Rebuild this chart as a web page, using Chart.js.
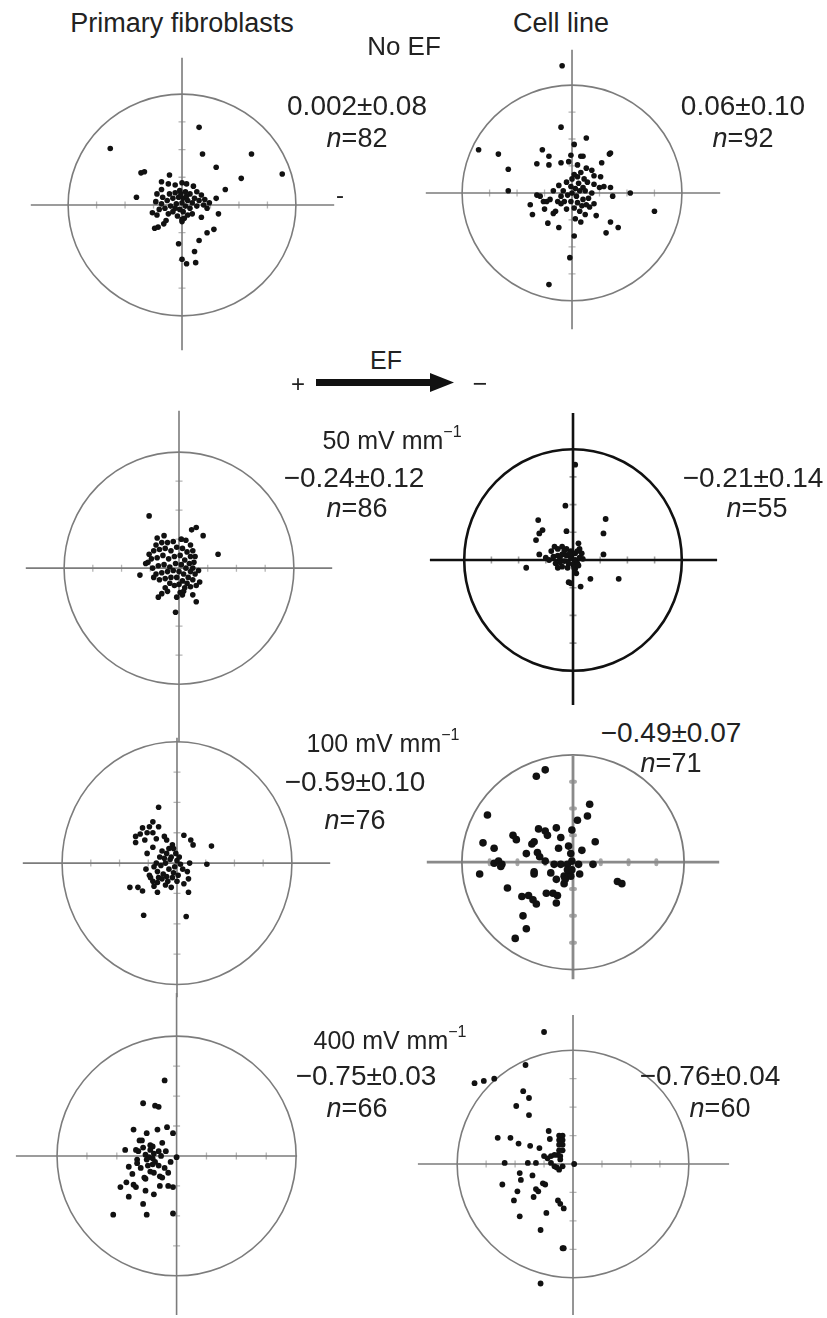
<!DOCTYPE html>
<html>
<head>
<meta charset="utf-8">
<title>EF directedness plots</title>
<script src="https://cdn.jsdelivr.net/npm/chart.js"></script>
<style>
  html, body { margin: 0; padding: 0; background: #fff; }
  #fig { position: relative; width: 827px; height: 1318px; overflow: hidden; }
  #fig canvas { position: absolute; }
  .lbl {
    position: absolute; transform: translate(-50%, -50%);
    font-family: "Liberation Sans", Arial, sans-serif; font-size: 25px;
    color: #222; white-space: nowrap; line-height: 1;
  }
  .lbl i { font-style: italic; }
  .lbl sup { font-size: 16px; position: relative; top: -3px; }
</style>
</head>
<body>
<div id="fig"></div>
<script>
// cell positions, x = along field, y = perpendicular; circle is radius 1
const primaryNoEF = [
  [-0.63,0.51],[0.15,0.70],[0.18,0.46],[0.61,0.46],[0.88,0.28],[0.30,0.34],[0.52,0.24],[0.38,0.14],
  [-0.36,0.29],[-0.33,0.30],[-0.11,0.27],[-0.18,0.21],[-0.40,0.07],[0.30,0.06],[0.32,-0.08],[0.17,-0.11],
  [0.09,-0.08],[0.28,-0.22],[0.22,-0.25],[0.15,-0.32],[-0.03,-0.35],[0.11,-0.42],[0.0,-0.49],[0.04,-0.53],
  [0.12,-0.52],[-0.26,-0.07],[-0.24,-0.21],[-0.21,-0.20],[-0.16,-0.17],[-0.14,-0.14],[-0.22,-0.09],[0.0,-0.13],
  [-0.18,0.14],[-0.12,0.19],[-0.06,0.18],[0.0,0.20],[0.04,0.19],[0.10,0.17],[0.13,0.12],[0.17,0.09],
  [0.20,0.05],[0.24,0.02],[-0.22,0.10],[-0.17,0.07],[-0.11,0.10],[-0.06,0.11],[-0.02,0.13],[0.03,0.12],
  [0.07,0.10],[0.11,0.06],[0.15,0.04],[0.19,0.0],[-0.23,0.03],[-0.18,0.01],[-0.13,0.04],[-0.08,0.06],
  [-0.03,0.07],[0.01,0.06],[0.05,0.04],[0.09,0.02],[0.13,-0.01],[0.22,-0.03],[-0.20,-0.04],[-0.15,-0.03],
  [-0.10,-0.01],[-0.05,0.01],[0.0,0.02],[0.03,-0.01],[0.07,-0.03],[-0.02,-0.04],[0.01,-0.06],[-0.08,-0.06],
  [-0.12,-0.08],[-0.04,-0.10],[0.02,-0.12],[0.0,-0.15],[0.05,-0.09],[-0.06,-0.03],[0.04,0.08],[-0.01,0.10]
];
const cellNoEF = [
  [-0.09,1.18],[-0.10,0.61],[0.13,0.51],[-0.85,0.40],[-0.67,0.36],[-0.58,0.22],[-0.58,0.02],[-0.27,0.40],
  [-0.21,0.34],[-0.32,0.27],[-0.21,0.26],[-0.10,0.28],[0.02,0.45],[-0.01,0.35],[0.08,0.34],[0.10,0.34],
  [-0.03,0.29],[0.05,0.26],[0.34,0.36],[0.35,0.37],[0.27,0.28],[0.13,0.23],[0.18,0.21],[0.20,0.16],
  [0.26,0.15],[0.02,0.17],[0.11,0.13],[0.20,0.08],[0.29,0.06],[0.35,0.05],[0.37,-0.03],[0.53,0.0],
  [0.75,-0.17],[0.42,-0.32],[0.35,-0.27],[0.31,-0.37],[0.22,-0.21],[0.16,-0.13],[0.08,-0.27],[0.03,-0.24],
  [0.02,-0.40],[-0.02,-0.60],[-0.21,-0.85],[-0.12,-0.32],[-0.22,-0.28],[-0.36,-0.20],[-0.38,-0.11],[-0.17,-0.19],
  [-0.15,-0.17],[-0.32,-0.02],[-0.29,-0.03],[-0.26,-0.08],[-0.23,-0.08],[-0.20,-0.06],[-0.12,0.07],[-0.17,0.02],
  [-0.10,-0.03],[-0.07,-0.08],[-0.10,-0.10],[-0.13,-0.08],[-0.01,0.06],[0.03,0.04],[0.07,0.02],[0.10,0.05],
  [0.04,-0.03],[-0.01,-0.08],[0.05,-0.09],[0.10,-0.06],[0.13,-0.11],[0.07,-0.17],[0.0,0.0],[0.06,0.09],
  [0.12,0.02],[-0.04,-0.02],[0.02,-0.14],[0.15,-0.05],[0.09,-0.12],[-0.05,0.10],[0.14,0.10],[-0.08,0.02],
  [0.25,0.05],[0.18,0.0],[0.20,-0.10],[0.0,0.13],[0.08,0.19],[-0.05,-0.15],[0.05,0.15],[-0.25,-0.15],[0.12,-0.20]
];
const primary50 = [
  [-0.26,0.45],[0.15,0.35],[0.11,0.33],[0.21,0.28],[0.34,0.12],[-0.34,-0.06],[-0.03,-0.38],[0.15,-0.29],
  [0.12,-0.23],[-0.18,-0.25],[-0.15,-0.22],[-0.12,-0.17],[-0.02,-0.25],[0.01,-0.21],[0.04,-0.20],[0.18,-0.12],
  [0.17,-0.02],[-0.19,0.26],[-0.13,0.28],[-0.26,0.12],[-0.29,0.04],[-0.27,0.05],[-0.22,-0.08],
  [-0.20,0.20],[-0.15,0.22],[-0.10,0.22],[-0.05,0.23],[0.02,0.25],[0.06,0.24],[0.10,0.20],[0.12,0.15],[0.14,0.10],
  [-0.22,0.15],[-0.17,0.16],[-0.12,0.17],[-0.07,0.15],[-0.02,0.18],[0.03,0.17],[0.07,0.14],[0.10,0.10],[0.13,0.05],
  [-0.24,0.08],[-0.19,0.09],[-0.14,0.11],[-0.09,0.08],[-0.04,0.10],[0.01,0.11],[0.05,0.07],[0.09,0.04],[0.12,0.0],
  [-0.23,0.0],[-0.18,0.02],[-0.13,0.03],[-0.08,0.01],[-0.03,0.04],[0.02,0.03],[0.06,0.0],[0.10,-0.03],[0.14,-0.05],
  [-0.20,-0.05],[-0.15,-0.04],[-0.10,-0.03],[-0.05,-0.02],[0.0,-0.03],[0.04,-0.05],[0.08,-0.08],[0.12,-0.10],
  [-0.17,-0.10],[-0.12,-0.09],[-0.07,-0.08],[-0.02,-0.08],[0.03,-0.11],[0.07,-0.13],[0.10,-0.16],[0.05,-0.17],
  [-0.08,-0.13],[-0.04,-0.15],[0.0,-0.14],[0.15,-0.15],[-0.10,-0.20],[0.03,-0.23]
];
const cell50 = [
  [0.02,0.86],[-0.07,0.49],[-0.32,0.36],[-0.28,0.27],[-0.31,0.24],[-0.34,0.18],[-0.06,0.26],[0.30,0.37],
  [0.28,0.24],[0.28,0.05],[0.42,-0.17],[0.16,-0.17],[-0.43,-0.07],[-0.31,0.05],[-0.04,-0.20],[-0.02,-0.21],
  [0.07,-0.24],[0.03,-0.12],[0.05,0.15],[0.02,-0.08],
  [-0.25,0.02],[-0.20,0.08],[-0.17,0.12],[-0.14,0.10],[-0.10,0.12],[-0.06,0.10],[-0.02,0.08],[0.02,0.06],
  [0.06,0.10],[0.08,0.06],[-0.22,0.0],[-0.18,0.03],[-0.14,0.04],[-0.10,0.05],[-0.06,0.04],[-0.02,0.02],
  [0.02,0.0],[0.06,0.02],[0.09,0.01],[-0.16,-0.03],[-0.12,-0.02],[-0.08,-0.01],[-0.04,-0.03],[0.0,-0.04],
  [0.04,-0.03],[-0.10,-0.06],[-0.05,-0.07],[0.01,-0.07],[-0.12,0.02],[-0.03,0.06],[0.04,0.08],[-0.08,0.08],
  [0.05,-0.05],[-0.14,-0.07]
];
const primary100 = [
  [-0.16,0.46],[-0.21,0.34],[-0.16,0.30],[-0.30,0.29],[-0.26,0.25],[-0.21,0.25],[-0.36,0.22],[-0.28,0.19],
  [-0.36,0.17],[-0.18,0.20],[-0.11,0.22],[-0.09,0.19],[-0.04,0.15],[-0.03,0.12],[0.06,0.23],[0.12,0.19],
  [0.14,0.15],[0.30,0.14],[0.26,-0.01],[0.11,0.0],[-0.21,0.13],[-0.26,0.08],[-0.41,-0.20],[-0.34,-0.20],
  [-0.30,-0.23],[-0.17,-0.24],[-0.29,-0.43],[0.08,-0.44],
  [-0.09,0.08],[-0.11,0.04],[-0.06,0.03],[-0.10,0.0],[-0.27,-0.05],[-0.20,-0.03],[-0.17,-0.07],[-0.21,-0.15],
  [-0.17,-0.16],[-0.13,-0.13],[-0.09,-0.11],[-0.03,-0.08],[0.03,-0.01],[0.09,-0.07],[0.10,-0.13],[0.06,-0.17],
  [0.10,-0.24],[-0.05,0.05],[0.0,0.02],[-0.02,-0.03],[-0.07,-0.05],[-0.14,-0.02],[-0.12,-0.09],[-0.04,-0.12],
  [0.01,-0.10],[-0.08,-0.15],[-0.16,-0.12],[-0.24,-0.10],[-0.20,-0.19],[-0.10,-0.18],[0.05,-0.05],[-0.01,0.08],
  [-0.15,0.05],[-0.07,0.12],[-0.23,-0.12],[0.0,-0.15],[-0.13,0.10],[-0.32,0.24],[-0.24,0.30],[-0.05,-0.20],
  [0.02,0.05],[-0.18,0.0]
];
const cell100 = [
  [-0.33,0.80],[-0.25,0.86],[-0.77,0.44],[-0.81,0.18],[-0.84,-0.11],[0.15,0.54],[0.13,0.43],[0.04,0.39],
  [-0.01,0.30],[-0.15,0.32],[-0.31,0.31],[-0.25,0.29],[-0.23,0.25],[-0.54,0.25],[-0.51,0.21],[-0.37,0.17],
  [-0.35,0.19],[-0.11,0.23],[0.20,0.19],[0.08,0.11],[-0.04,0.15],[-0.13,0.13],[-0.42,0.08],[-0.32,0.09],
  [-0.71,0.13],[-0.71,-0.01],[-0.67,0.01],[-0.64,-0.02],[-0.65,-0.04],[-0.25,0.01],[-0.17,-0.02],[-0.11,-0.02],
  [-0.05,-0.02],[-0.01,0.01],[0.05,-0.02],[0.18,-0.02],[-0.35,-0.11],[-0.35,-0.09],[-0.20,-0.10],[-0.15,-0.16],
  [-0.08,-0.13],[-0.04,-0.11],[-0.08,-0.20],[-0.02,-0.13],[0.06,-0.11],[-0.59,-0.24],[-0.46,-0.32],[-0.40,-0.31],
  [-0.36,-0.35],[-0.33,-0.39],[-0.24,-0.29],[-0.18,-0.29],[-0.14,-0.31],[-0.15,-0.38],[-0.45,-0.50],[-0.42,-0.62],
  [-0.52,-0.71],[0.40,-0.18],[0.44,-0.20],[-0.05,-0.07],[-0.01,-0.07],[-0.07,-0.16],[-0.30,0.05],[-0.02,0.08]
];
const primary400 = [
  [-0.10,0.63],[-0.28,0.44],[-0.18,0.42],[-0.15,0.41],[-0.36,0.22],[-0.25,0.19],[-0.16,0.22],[-0.08,0.24],
  [-0.03,0.19],[-0.31,0.13],[-0.29,0.13],[-0.22,0.09],[-0.20,0.08],[-0.12,0.11],[-0.43,0.05],[-0.34,0.05],
  [-0.32,0.04],[-0.15,0.04],[-0.09,0.04],[0.0,-0.01],[-0.26,0.01],[-0.23,-0.01],[-0.20,-0.02],[-0.18,-0.05],
  [-0.25,-0.03],[-0.19,0.02],[-0.33,-0.03],[-0.33,-0.06],[-0.05,-0.05],[-0.40,-0.09],[-0.37,-0.15],[-0.22,-0.13],
  [-0.19,-0.14],[-0.26,-0.19],[-0.27,-0.18],[-0.14,-0.17],[-0.12,-0.18],[-0.07,-0.14],[-0.42,-0.22],[-0.36,-0.24],
  [-0.34,-0.26],[-0.47,-0.26],[-0.14,-0.25],[-0.07,-0.25],[-0.03,-0.26],[-0.26,-0.29],[-0.19,-0.32],[-0.40,-0.34],
  [-0.28,-0.40],[-0.53,-0.49],[-0.25,-0.49],[-0.03,-0.48],[-0.22,0.05],[-0.15,-0.08],[-0.28,0.07],[-0.10,-0.10],
  [-0.20,-0.07],[-0.13,0.0],[-0.24,-0.08],[-0.30,-0.10]
];
const cell400 = [
  [-0.25,1.16],[-0.41,0.87],[-0.85,0.71],[-0.77,0.73],[-0.68,0.75],[-0.43,0.64],[-0.38,0.58],[-0.49,0.51],
  [-0.38,0.43],[-0.65,0.23],[-0.54,0.23],[-0.47,0.18],[-0.37,0.16],[-0.29,0.14],[-0.21,0.29],[-0.20,0.22],
  [-0.12,0.25],[-0.09,0.25],[-0.12,0.21],[-0.09,0.21],[-0.12,0.17],[-0.09,0.17],[-0.12,0.12],[-0.09,0.12],
  [-0.13,0.08],[-0.11,0.07],[-0.11,0.04],[-0.25,0.07],[-0.22,0.05],[-0.19,0.07],[-0.16,0.08],[-0.59,0.01],
  [-0.39,0.01],[-0.32,0.01],[-0.19,0.01],[-0.16,-0.02],[-0.12,-0.05],[-0.09,-0.02],[-0.14,-0.03],[0.01,0.0],
  [-0.46,-0.08],[-0.35,-0.10],[-0.61,-0.18],[-0.45,-0.14],[-0.26,-0.17],[-0.24,-0.18],[-0.48,-0.24],[-0.32,-0.22],
  [-0.30,-0.24],[-0.51,-0.32],[-0.34,-0.29],[-0.13,-0.32],[-0.11,-0.35],[-0.08,-0.39],[-0.46,-0.46],[-0.23,-0.43],
  [-0.28,-0.58],[-0.09,-0.74],[-0.08,-0.74],[-0.28,-1.05]
];

const tickValues = [-0.75, -0.5, -0.25, 0.25, 0.5, 0.75];
const columnTitles = ["Primary fibroblasts", "Cell line"];
const fieldLabels = ["No EF", "50 mV mm", "100 mV mm", "400 mV mm"];
const meanLabels = ["0.002\u00b10.08", "0.06\u00b10.10", "\u22120.24\u00b10.12", "\u22120.21\u00b10.14",
                    "\u22120.59\u00b10.10", "\u22120.49\u00b10.07", "\u22120.75\u00b10.03", "\u22120.76\u00b10.04"];
const nLabels = [82, 92, 86, 55, 76, 71, 66, 60];

// the frame: circle, crossing axes and little ticks, all from the scales
const polarFrame = {
  id: "polarFrame",
  beforeDatasetsDraw(chart, args, o) {
    const { ctx, scales: { x, y } } = chart;
    const cx = x.getPixelForValue(0), cy = y.getPixelForValue(0);
    ctx.save();
    ctx.lineCap = o.tickCap || "butt";
    ctx.strokeStyle = o.tickColor; ctx.lineWidth = o.tickWidth;
    tickValues.forEach(v => {
      const px = x.getPixelForValue(v), py = y.getPixelForValue(v);
      ctx.beginPath();
      ctx.moveTo(px, cy - o.tickLen); ctx.lineTo(px, cy + o.tickLen);
      ctx.moveTo(cx - o.tickLen, py); ctx.lineTo(cx + o.tickLen, py);
      ctx.stroke();
    });
    ctx.lineCap = "butt";
    ctx.strokeStyle = o.axisColor; ctx.lineWidth = o.axisWidth;
    ctx.beginPath();
    ctx.moveTo(x.getPixelForValue(x.min), cy); ctx.lineTo(x.getPixelForValue(x.max), cy);
    ctx.moveTo(cx, y.getPixelForValue(y.min)); ctx.lineTo(cx, y.getPixelForValue(y.max));
    ctx.stroke();
    ctx.strokeStyle = o.circleColor; ctx.lineWidth = o.circleWidth;
    ctx.beginPath();
    ctx.ellipse(cx, cy, x.getPixelForValue(1) - cx, cy - y.getPixelForValue(1), 0, 0, Math.PI * 2);
    ctx.stroke();
    ctx.restore();
  }
};

const grey = { circleColor: "#7c7c7c", circleWidth: 1.6, axisColor: "#7c7c7c", axisWidth: 1.6,
               tickColor: "#b5b5b5", tickWidth: 1.3, tickLen: 3.5 };

// box = where the axes end, c = centre, r = pixel radius of the unit circle
const panels = [
  { pts: primaryNoEF, box: [28, 55, 337, 353], c: [182, 205], r: [116, 113], dot: 2.8, style: grey },
  { pts: cellNoEF, box: [423, 47, 723, 332], c: [572, 193], r: [112, 110], dot: 2.8, style: grey },
  { pts: primary50, box: [23, 408, 335, 745], c: [179, 568], r: [117, 118], dot: 2.8, style: grey },
  { pts: cell50, box: [427, 410, 720, 708], c: [573, 560], r: [111, 113], dot: 2.9,
    style: { circleColor: "#111", circleWidth: 2.6, axisColor: "#111", axisWidth: 2.6,
             tickColor: "#a0a0a0", tickWidth: 1.6, tickLen: 3.5 } },
  { pts: primary100, box: [20, 735, 333, 1000], c: [177, 863], r: [117, 124], dot: 2.8, style: grey },
  { pts: cell100, box: [423, 752, 723, 983], c: [573, 862], r: [114, 111], dot: 3.8,
    style: { circleColor: "#7a7a7a", circleWidth: 1.8, axisColor: "#8a8a8a", axisWidth: 2.8,
             tickColor: "#a8a8a8", tickWidth: 4, tickLen: 2, tickCap: "round" } },
  { pts: primary400, box: [13, 990, 300, 1318], c: [177, 1156], r: [122, 122], dot: 2.9, style: grey },
  { pts: cell400, box: [415, 1012, 732, 1318], c: [573, 1164], r: [118, 116], dot: 2.9, style: grey }
];

const fig = document.getElementById("fig");

panels.forEach(p => {
  const [L, T, R, B] = p.box;
  const canvas = document.createElement("canvas");
  canvas.width = R - L; canvas.height = B - T;
  canvas.style.left = L + "px"; canvas.style.top = T + "px";
  canvas.style.width = (R - L) + "px"; canvas.style.height = (B - T) + "px";
  fig.appendChild(canvas);
  new Chart(canvas, {
    type: "scatter",
    data: {
      datasets: [{
        data: p.pts.map(([x, y]) => ({ x, y })),
        backgroundColor: "#111", borderWidth: 0,
        pointRadius: p.dot, pointHoverRadius: p.dot, clip: false
      }]
    },
    options: {
      responsive: false, animation: false, devicePixelRatio: 1,
      layout: { padding: 0 },
      events: [],
      scales: {
        x: { type: "linear", display: false, min: (L - p.c[0]) / p.r[0], max: (R - p.c[0]) / p.r[0] },
        y: { type: "linear", display: false, min: (p.c[1] - B) / p.r[1], max: (p.c[1] - T) / p.r[1] }
      },
      plugins: { legend: { display: false }, tooltip: { enabled: false }, polarFrame: p.style }
    },
    plugins: [polarFrame]
  });
});

// text
function label(html, x, y, size) {
  const d = document.createElement("div");
  d.className = "lbl";
  d.innerHTML = html;
  d.style.left = x + "px"; d.style.top = y + "px";
  if (size) d.style.fontSize = size + "px";
  fig.appendChild(d);
}
const sup = "<sup>\u22121</sup>";
label(columnTitles[0], 182, 23, 27);
label(columnTitles[1], 561, 23, 27);
label(fieldLabels[0], 404, 46, 26);
label(fieldLabels[1] + sup, 392, 440, 25);
label(fieldLabels[2] + sup, 383, 743, 25);
label(fieldLabels[3] + sup, 390, 1040, 25);
label("-", 340, 195, 24);

const meanPos = [[357, 106], [743, 106], [354, 478], [753, 478], [355, 782], [671, 733], [366, 1076], [710, 1076]];
const nPos = [[357, 138], [743, 138], [357, 508], [757, 508], [355, 820], [671, 763], [357, 1108], [720, 1108]];
meanLabels.forEach((t, i) => label(t, meanPos[i][0], meanPos[i][1], 28));
nLabels.forEach((n, i) => label("<i>n</i>=" + n, nPos[i][0], nPos[i][1], 27));

// field direction arrow
label("EF", 386, 360, 25);
label("+", 298, 384, 24);
label("\u2212", 480, 383, 25);
const arrow = document.createElementNS("http://www.w3.org/2000/svg", "svg");
arrow.setAttribute("width", "150"); arrow.setAttribute("height", "30");
arrow.style.position = "absolute"; arrow.style.left = "312px"; arrow.style.top = "368px";
arrow.innerHTML = '<rect x="4" y="11" width="118" height="7" fill="#111"/>' +
                  '<polygon points="118,5 142,14.5 118,24" fill="#111"/>';
fig.appendChild(arrow);
</script>
</body>
</html>
